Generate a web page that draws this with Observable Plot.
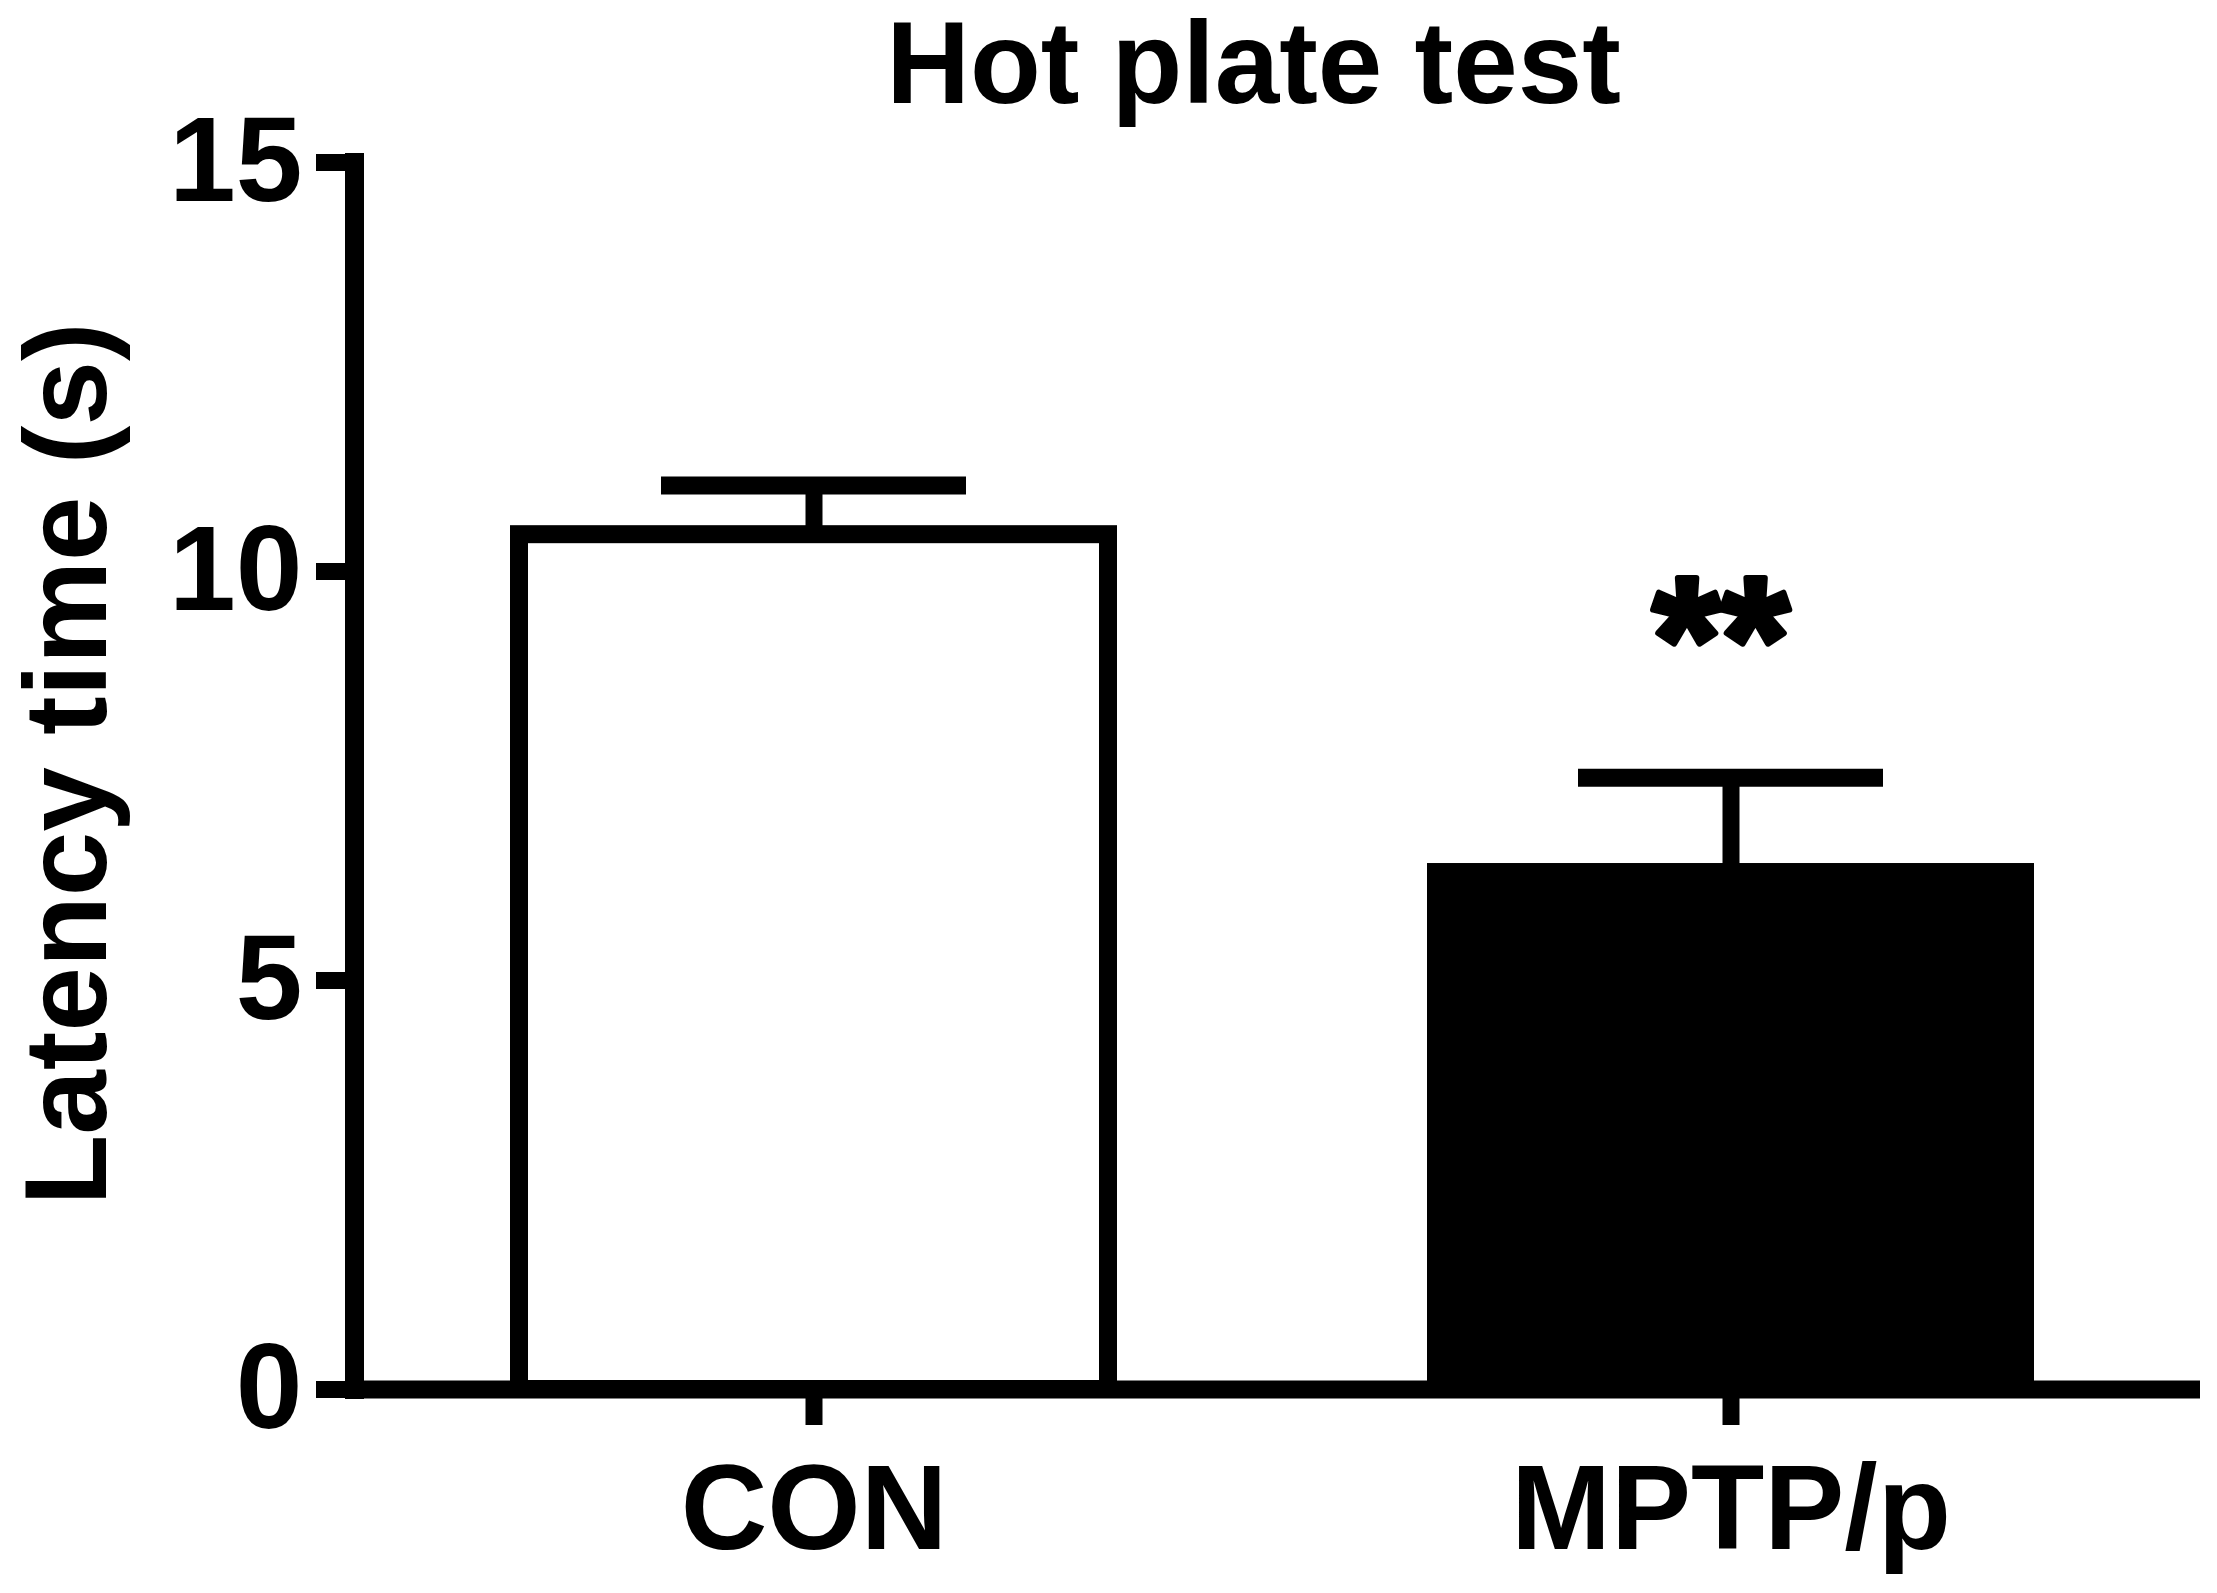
<!DOCTYPE html>
<html>
<head>
<meta charset="utf-8">
<script src="https://cdn.jsdelivr.net/npm/d3@7"></script>
<script src="https://cdn.jsdelivr.net/npm/@observablehq/plot@0.6"></script>
<style>
  html, body { margin: 0; padding: 0; background: white; }
  #chart { width: 2217px; }
  #chart svg { overflow: visible; }
</style>
</head>
<body>
<div id="chart"></div>
<script>
const title = "Hot plate test";
const categories = ["CON", "MPTP/p"];
const means = [10.45, 6.32];
const sems = [0.6, 1.16];
const fills = ["white", "black"];
const significance = ["", "**"];
const yTicks = [0, 5, 10, 15];
const yLabel = "Latency time (s)";

const data = categories.map((c, i) => ({group: c, mean: means[i], sem: sems[i], fill: fills[i], sig: significance[i]}));

const chart = Plot.plot({
  width: 2217,
  height: 1593,
  marginTop: 162,
  marginBottom: 204,
  marginLeft: 354,
  marginRight: 17,
  style: {fontFamily: "Liberation Sans, Arial, sans-serif", color: "black", background: "white", overflow: "visible"},
  x: {domain: categories, paddingInner: 0.3573, paddingOuter: 0.1841, align: 0.485},
  y: {domain: [0, 15]},
  color: {type: "identity"},
  marks: [
    Plot.barY(data, {x: "group", y: "mean", fill: "fill", stroke: "black", strokeWidth: 18}),
    Plot.ruleX(data, {x: "group", y1: "mean", y2: d => d.mean + d.sem, stroke: "black", strokeWidth: 17}),
    Plot.tickY(data, {x: "group", y: d => d.mean + d.sem, stroke: "black", strokeWidth: 18, insetLeft: 142, insetRight: 142}),
    Plot.text(data.filter(d => d.sig), {x: "group", y: d => d.mean + d.sem, text: "sig", dx: -10, dy: -79, lineAnchor: "bottom", fontSize: 176, fontWeight: "bold", fill: "black", stroke: "black", strokeWidth: 6, strokeLinejoin: "round"}),
    Plot.ruleY([0], {stroke: "black", strokeWidth: 18}),
    Plot.frame({anchor: "left", stroke: "black", strokeWidth: 19}),
    Plot.axisY({ticks: yTicks, tickSize: 38, tickPadding: 14, strokeWidth: 17, fontSize: 120, fontWeight: "bold", label: null}),
    Plot.axisX({tickSize: 36, tickPadding: 38, strokeWidth: 17, fontSize: 120, fontWeight: "bold", label: null}),
    Plot.text([yLabel], {frameAnchor: "left", rotate: -90, dx: -249, dy: -12, textAnchor: "middle", lineAnchor: "bottom", fontSize: 116, fontWeight: "bold", fill: "black"}),
    Plot.text([title], {frameAnchor: "top", dx: -24, dy: -60, textAnchor: "middle", lineAnchor: "bottom", fontSize: 116, fontWeight: "bold", fill: "black"})
  ]
});
document.getElementById("chart").appendChild(chart);
</script>
</body>
</html>
